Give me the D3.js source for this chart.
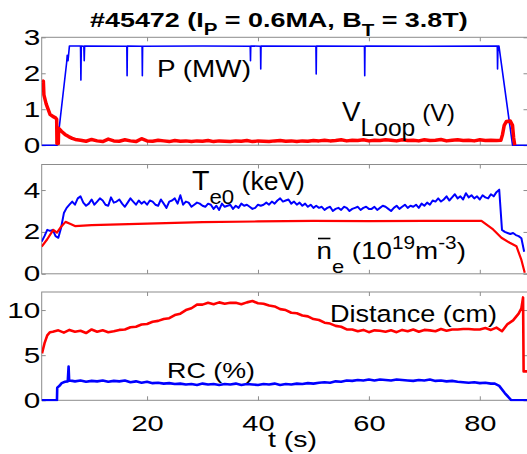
<!DOCTYPE html>
<html>
<head>
<meta charset="utf-8">
<script src="https://cdn.jsdelivr.net/npm/d3@7"></script>
<style>
  html, body { margin: 0; padding: 0; background: #fff; }
  svg { display: block; font-family: "Liberation Sans", Arial, Helvetica, sans-serif; }
  text { white-space: pre; }
</style>
</head>
<body>
<svg id="chart" width="527" height="454"></svg>
<script>
const xDomain = [1, 88.6];
const xTicks = [20, 40, 60, 80];
const yTicksTop = [0, 1, 2, 3];
const yTicksMid = [0, 2, 4];
const yTicksBot = [0, 5, 10];

// heating power P (MW): [t, value]
const powerMW = [[1,0],[3.8,0],[5.5,2.3],[5.6,2.5],[5.75,2.35],[6.0,2.76],[8.0,2.76],[8.07,1.81],[8.14,2.76],
  [8.6,2.75],[8.67,2.35],[8.74,2.76],[16.35,2.75],[16.4,1.93],[16.45,2.76],[19.1,2.75],[19.15,1.93],[19.2,2.75],
  [30,2.76],[38.6,2.75],[38.65,2.35],[38.7,2.76],[40.45,2.75],[40.5,2.12],[40.55,2.76],[50.45,2.75],[50.5,1.98],
  [50.55,2.76],[59.2,2.75],[59.25,1.93],[59.3,2.76],[70,2.75],[83.15,2.76],[83.2,2.12],[83.28,2.76],[83.45,2.76],
  [85.9,0],[88.6,0]];

// loop voltage (V)
const vLoopHead = [[1.05,1.8],[1.3,1.78],[1.4,1.4],[1.8,1.15],[2.2,0.98],[2.5,0.86],[3,0.8],[3.5,0.76],[3.7,0.72],
  [3.75,0.05],[4.0,0.05],[4.05,0.47],[4.6,0.38],[5.2,0.3],[5.85,0.24],[6.5,0.19],[7.05,0.16]];
const vLoopStart = 8, vLoopStep = 1;
const vLoopFlat = [0.14,0.11,0.16,0.12,0.1,0.17,0.12,0.11,0.15,0.12,0.1,0.18,0.12,0.11,0.14,0.12,0.1,0.13,0.11,0.12,
  0.1,0.12,0.11,0.13,0.1,0.12,0.11,0.1,0.12,0.11,0.13,0.1,0.12,0.11,0.1,0.12,0.13,0.11,0.12,0.1,
  0.12,0.11,0.13,0.12,0.14,0.12,0.13,0.15,0.12,0.14,0.13,0.15,0.12,0.14,0.13,0.15,0.14,0.12,0.15,0.13,
  0.14,0.12,0.15,0.13,0.14,0.16,0.12,0.14,0.15,0.13,0.14,0.12,0.15,0.13,0.14,0.13];
const vLoopTail = [[83.8,0.14],[84.1,0.3],[84.4,0.55],[84.8,0.66],[85.5,0.67],[85.9,0.55],[86.1,0.2],[86.3,0]];

// central electron temperature Te0 (keV), every 0.5 s from t = 1
const te0Start = 1, te0Step = 0.5;
const te0keV = [1.54,1.8,2.1,2.05,2.1,1.8,1.72,2.2,2.9,3.15,3.3,
  3.45,3.3,3.6,3.7,3.4,3.25,3.35,3.55,3.3,3.45,3.6,3.5,3.3,3.25,3.65,3.4,3.45,3.55,3.35,3.2,3.4,3.6,3.45,3.3,3.5,3.35,3.45,3.3,
  3.5,3.45,3.3,3.25,3.55,3.35,3.15,3.45,3.5,3.6,3.35,3.75,3.3,3.45,3.4,3.2,3.3,3.4,3.35,3.25,
  3.2,3.35,3.3,3.1,3.25,3.05,3.35,3.2,3.25,3.3,3.1,3.25,3.15,3.35,3.25,3.3,3.2,3.1,3.15,3.3,
  3.25,3.3,3.4,3.3,3.45,3.35,3.5,3.6,3.45,3.5,3.55,3.35,3.45,3.3,3.4,3.25,3.35,3.2,3.3,3.15,
  3.25,3.15,3.2,3.05,3.15,3.2,3.0,3.1,3.15,3.05,3.2,3.15,3.0,3.1,3.15,3.2,3.05,3.15,3.2,3.1,
  3.1,3.2,3.05,3.15,3.25,3.2,3.1,3.0,3.15,3.25,3.1,3.2,3.3,3.15,3.25,3.2,3.3,3.15,3.35,3.25,
  3.4,3.3,3.5,3.45,3.6,3.45,3.55,3.7,3.5,3.65,3.8,3.6,3.7,3.55,3.85,3.65,3.75,3.6,3.7,3.55,
  3.75,3.65,3.6,3.8,3.7,3.9,4.02,2.1,2.0,1.95,1.9,1.95,1.85,1.8,1.7,1.05];

// line-averaged density (1e19 m^-3)
const neBar = [[1,1.3],[2,1.65],[2.5,1.86],[3.1,2.1],[3.75,1.97],[4.5,2.25],[5.3,2.48],[6,2.4],[7,2.28],[10,2.32],
  [20,2.4],[30,2.47],[40,2.5],[50,2.53],[60,2.52],[70,2.53],[80.3,2.53],[82.4,2.12],[83.9,1.72],[85.4,1.48],
  [86.6,1.32],[87.5,0.66],[88.1,0.05]];

// distance (cm)
const distHead = [[1.05,5.2],[1.5,6.3],[2,7.2],[2.5,7.55]];
const distStart = 3, distStep = 1;
const distanceCm = [7.6,7.75,7.5,7.8,7.6,7.7,7.45,7.85,7.6,7.75,7.55,
  7.65,7.8,7.85,8.1,8.15,8.4,8.45,8.7,8.8,9.0,9.1,9.45,9.6,10.0,10.2,10.6,
  10.6,10.8,10.65,10.85,10.7,10.8,10.8,10.65,10.85,11.0,10.75,10.7,
  10.5,10.4,10.1,10.0,9.7,9.65,9.4,9.3,9.0,8.9,8.6,8.5,8.25,8.15,7.85,7.85,
  7.65,7.8,7.55,7.75,7.7,7.6,7.75,7.55,7.8,7.65,7.85,7.6,7.8,7.75,7.65,7.9,7.7,7.85,
  7.85,7.9,7.9,7.85,7.85,8.0,7.8,8.05,7.65,8.45,8.85,9.6];
const distTail = [[87.5,10.2],[87.8,11.4],[87.9,3.2],[88.6,3.2]];

// RC (%)
const rcHead = [[1,0],[3.75,0],[3.8,1.4],[4.2,1.6],[4.6,1.9],[5.2,2.05],[5.7,2.1],[5.85,3.75],[5.95,2.2],[6.5,2.15]];
const rcStart = 7, rcStep = 1;
const rcPct = [2.1,2.2,2.05,2.15,2.1,2.2,2.05,2.15,2.1,
  2.2,2.0,2.1,1.95,2.05,1.9,1.95,1.85,1.9,1.8,
  1.85,1.75,1.8,1.7,1.85,1.75,1.8,1.7,1.8,1.75,1.85,1.7,1.8,1.75,1.7,1.8,1.75,1.85,1.7,1.8,1.75,1.85,1.8,1.9,1.85,
  1.95,2.0,1.95,2.1,2.05,2.2,2.15,2.25,2.2,2.3,
  2.2,2.3,2.25,2.2,2.3,2.25,2.2,2.15,2.25,2.2,2.3,2.15,2.2,2.1,2.15,2.05,
  2.0,1.95,2.0,1.9,1.95,1.85];
const rcTail = [[82.7,1.85],[83.5,1.6],[84.5,0.8],[85.7,0],[88.6,0]];

// ---- drawing ----
const svg = d3.select("#chart");
const boxColor = "#8c8c8c";
const blue = "#0000ff", red = "#ff0000";
const x = d3.scaleLinear().domain(xDomain).range([41.7, 527.5]);
const [left, right] = x.range();

function seq(start, step, vals) { return vals.map((v, i) => [start + i * step, v]); }

const panels = [
  { top: 37.3, bottom: 145.2, ymax: 3, ticks: yTicksTop, series: [
    { data: powerMW, color: blue, w: 1.6 },
    { data: vLoopHead.concat(seq(vLoopStart, vLoopStep, vLoopFlat), vLoopTail), color: red, w: 3.5 } ] },
  { top: 164.5, bottom: 273.8, ymax: 5.22, ticks: yTicksMid, series: [
    { data: seq(te0Start, te0Step, te0keV), color: blue, w: 2 },
    { data: neBar, color: red, w: 2.2 } ] },
  { top: 292, bottom: 400.3, ymax: 12, ticks: yTicksBot, series: [
    { data: distHead.concat(seq(distStart, distStep, distanceCm), distTail), color: red, w: 2.6 },
    { data: rcHead.concat(seq(rcStart, rcStep, rcPct), rcTail), color: blue, w: 2.6 } ] }
];

panels.forEach((p, i) => {
  const y = d3.scaleLinear().domain([0, p.ymax]).range([p.bottom, p.top]);
  const g = svg.append("g");

  g.append("rect")
    .attr("x", left).attr("y", p.top)
    .attr("width", right - left).attr("height", p.bottom - p.top)
    .attr("fill", "none").attr("stroke", boxColor).attr("stroke-width", 1);

  const yl = g.append("g").attr("transform", `translate(${left},0)`)
    .call(d3.axisLeft(y).tickValues(p.ticks).tickSize(-4).tickPadding(0).tickFormat(d3.format("d")));
  yl.attr("font-family", null).attr("font-size", 22);
  yl.select(".domain").remove();
  yl.selectAll("line").attr("stroke", boxColor);
  yl.selectAll("text").attr("x", null).attr("fill", "#000")
    .attr("transform", "translate(-1.5,0) scale(1.35,1)");

  const yr = g.append("g").attr("transform", `translate(${right},0)`)
    .call(d3.axisRight(y).tickValues(p.ticks).tickSize(-4).tickFormat(""));
  yr.select(".domain").remove();
  yr.selectAll("line").attr("stroke", boxColor);

  const xt = g.append("g").attr("transform", `translate(0,${p.top})`)
    .call(d3.axisTop(x).tickValues(xTicks).tickSize(-4).tickFormat(""));
  xt.select(".domain").remove();
  xt.selectAll("line").attr("stroke", boxColor);

  const last = i === panels.length - 1;
  const xb = g.append("g").attr("transform", `translate(0,${p.bottom})`)
    .call(d3.axisBottom(x).tickValues(xTicks).tickSize(-4).tickFormat(last ? d3.format("d") : ""));
  xb.attr("font-family", null).attr("font-size", 22);
  xb.select(".domain").remove();
  xb.selectAll("line").attr("stroke", boxColor);
  xb.selectAll("text").attr("y", 30.7).attr("dy", "0").attr("fill", "#000")
    .attr("transform", "scale(1.32,1)");

  const clipId = "clip" + i;
  svg.append("clipPath").attr("id", clipId).append("rect")
    .attr("x", left).attr("y", p.top - 1)
    .attr("width", right - left).attr("height", p.bottom - p.top + 2);

  const line = d3.line().x(d => x(d[0])).y(d => y(d[1]));
  p.series.forEach(s => {
    g.append("path")
      .attr("clip-path", `url(#${clipId})`)
      .attr("d", line(s.data))
      .attr("fill", "none")
      .attr("stroke", s.color)
      .attr("stroke-width", s.w)
      .attr("stroke-linejoin", "round");
  });
});

// text label stretched to span [l, r] with its baseline at b
function fitLabel(parts, l, r, b, weight) {
  const t = svg.append("text").attr("font-weight", weight || "normal").attr("fill", "#000");
  let cur = 0;
  parts.forEach(p => {
    const off = p.off || 0;
    t.append("tspan").attr("dy", off - cur).attr("font-size", p.size).text(p.s);
    cur = off;
  });
  const bb = t.node().getBBox();
  const sx = (r - l) / bb.width;
  t.attr("transform", `translate(${l - bb.x * sx},${b}) scale(${sx},1)`);
  return { node: t.node(), sx, bx: bb.x, l };
}

fitLabel([{ s: "#45472 (I", size: 21 }, { s: "P", size: 16, off: 8 }, { s: " = 0.6MA, B", size: 21 },
  { s: "T", size: 16, off: 9 }, { s: " = 3.8T)", size: 21 }], 90, 468, 27, "bold");

fitLabel([{ s: "P (MW)", size: 23 }], 157, 251, 76.6);
fitLabel([{ s: "V", size: 27 }, { s: "Loop", size: 24, off: 15 }, { s: " (V)", size: 24 }], 342, 455, 121);
fitLabel([{ s: "T", size: 27 }, { s: "e0", size: 21, off: 13.5 }, { s: " (keV)", size: 25 }], 192, 305, 190.4);
const ne = fitLabel([{ s: "n", size: 24 }, { s: "e", size: 19, off: 13.5 }, { s: " (10", size: 24 },
  { s: "19", size: 18, off: -10 }, { s: "m", size: 24 }, { s: "-3", size: 18, off: -10 }, { s: ")", size: 24 }],
  316.5, 466, 259.3);
const ext = ne.node.getExtentOfChar(0);
svg.append("line")
  .attr("x1", ne.l + (ext.x - ne.bx) * ne.sx + 1.5)
  .attr("x2", ne.l + (ext.x + ext.width - ne.bx) * ne.sx - 1.5)
  .attr("y1", 238.5).attr("y2", 238.5)
  .attr("stroke", "#000").attr("stroke-width", 1.6);
fitLabel([{ s: "Distance (cm)", size: 23.5 }], 330, 497, 321.9);
fitLabel([{ s: "RC (%)", size: 22 }], 167, 255, 378);
fitLabel([{ s: "t (s)", size: 22 }], 268, 317, 447);
</script>
</body>
</html>
